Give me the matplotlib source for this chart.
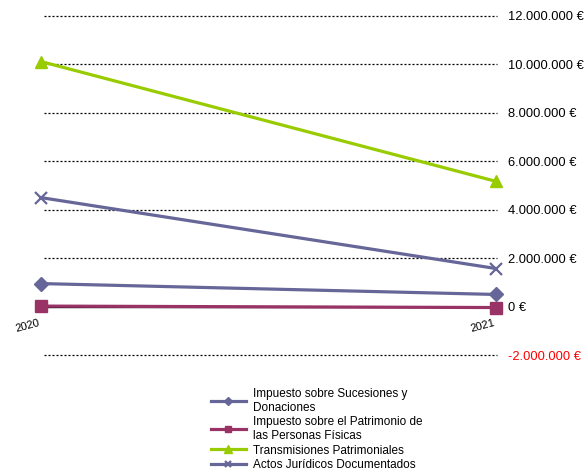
import matplotlib.pyplot as plt
from matplotlib.ticker import FuncFormatter

plt.rcParams['font.family'] = ['Liberation Sans', 'DejaVu Sans']

# Datos
anios = ["2020", "2021"]
sucesiones = [950000, 500000]
patrimonio = [20000, -40000]
transmisiones = [10120000, 5170000]
actos = [4500000, 1570000]
ticks_y = [-2000000, 0, 2000000, 4000000, 6000000, 8000000, 10000000, 12000000]

etiquetas = [
    "Impuesto sobre Sucesiones y\nDonaciones",
    "Impuesto sobre el Patrimonio de\nlas Personas Físicas",
    "Transmisiones Patrimoniales",
    "Actos Jurídicos Documentados",
]

fig = plt.figure(figsize=(5.85, 4.72), dpi=100)
ax = fig.add_axes([41 / 585, 117 / 472, 456 / 585, 339 / 472])

x = range(len(anios))
ax.plot(x, sucesiones, color="#666699", lw=2.3, marker="D", ms=7, label=etiquetas[0], clip_on=False, zorder=4)
ax.plot(x, patrimonio, color="#993366", lw=2.3, marker="s", ms=8, label=etiquetas[1], clip_on=False, zorder=4)
ax.plot(x, transmisiones, color="#99CC00", lw=2.3, marker="^", ms=9, label=etiquetas[2], clip_on=False, zorder=4)
ax.plot(x, actos, color="#666699", lw=2.3, marker="x", ms=8, mew=1.6, label=etiquetas[3], clip_on=False, zorder=4)

ax.set_xlim(0, 1.002)
ax.set_ylim(-2000000, 12000000)
ax.set_yticks(ticks_y)

# Líneas de división punteadas
for v in ticks_y:
    if v != 0:
        ax.axhline(v, xmin=0.007, color="black", lw=0.9, ls=(0, (1.6, 1.6)), zorder=1, clip_on=False)

for s in ["top", "left", "right"]:
    ax.spines[s].set_visible(False)
ax.spines["bottom"].set_position(("data", 0))
ax.spines["bottom"].set_color("black")
ax.spines["bottom"].set_linewidth(1.0)
ax.spines["bottom"].set_zorder(3)

ax.yaxis.tick_right()
ax.tick_params(axis="y", length=0, pad=8, labelsize=9.3)
ax.yaxis.set_major_formatter(FuncFormatter(lambda v, p: f"{int(v):,} €".replace(",", ".")))

ax.set_xticks(list(x))
ax.set_xticklabels(anios, rotation=15, ha="right", fontsize=8)
ax.tick_params(axis="x", length=3, direction="out", pad=5)

fig.canvas.draw()
for lab in ax.get_yticklabels():
    if lab.get_position()[1] < 0:
        lab.set_color("red")

fig.legend(loc="upper left", bbox_to_anchor=(206 / 585, 1 - 383 / 472), frameon=False,
           fontsize=8.5, handlelength=3.0, handletextpad=0.6, labelspacing=0.22,
           borderaxespad=0, markerscale=0.6)

fig.savefig("out.png", dpi=100)
